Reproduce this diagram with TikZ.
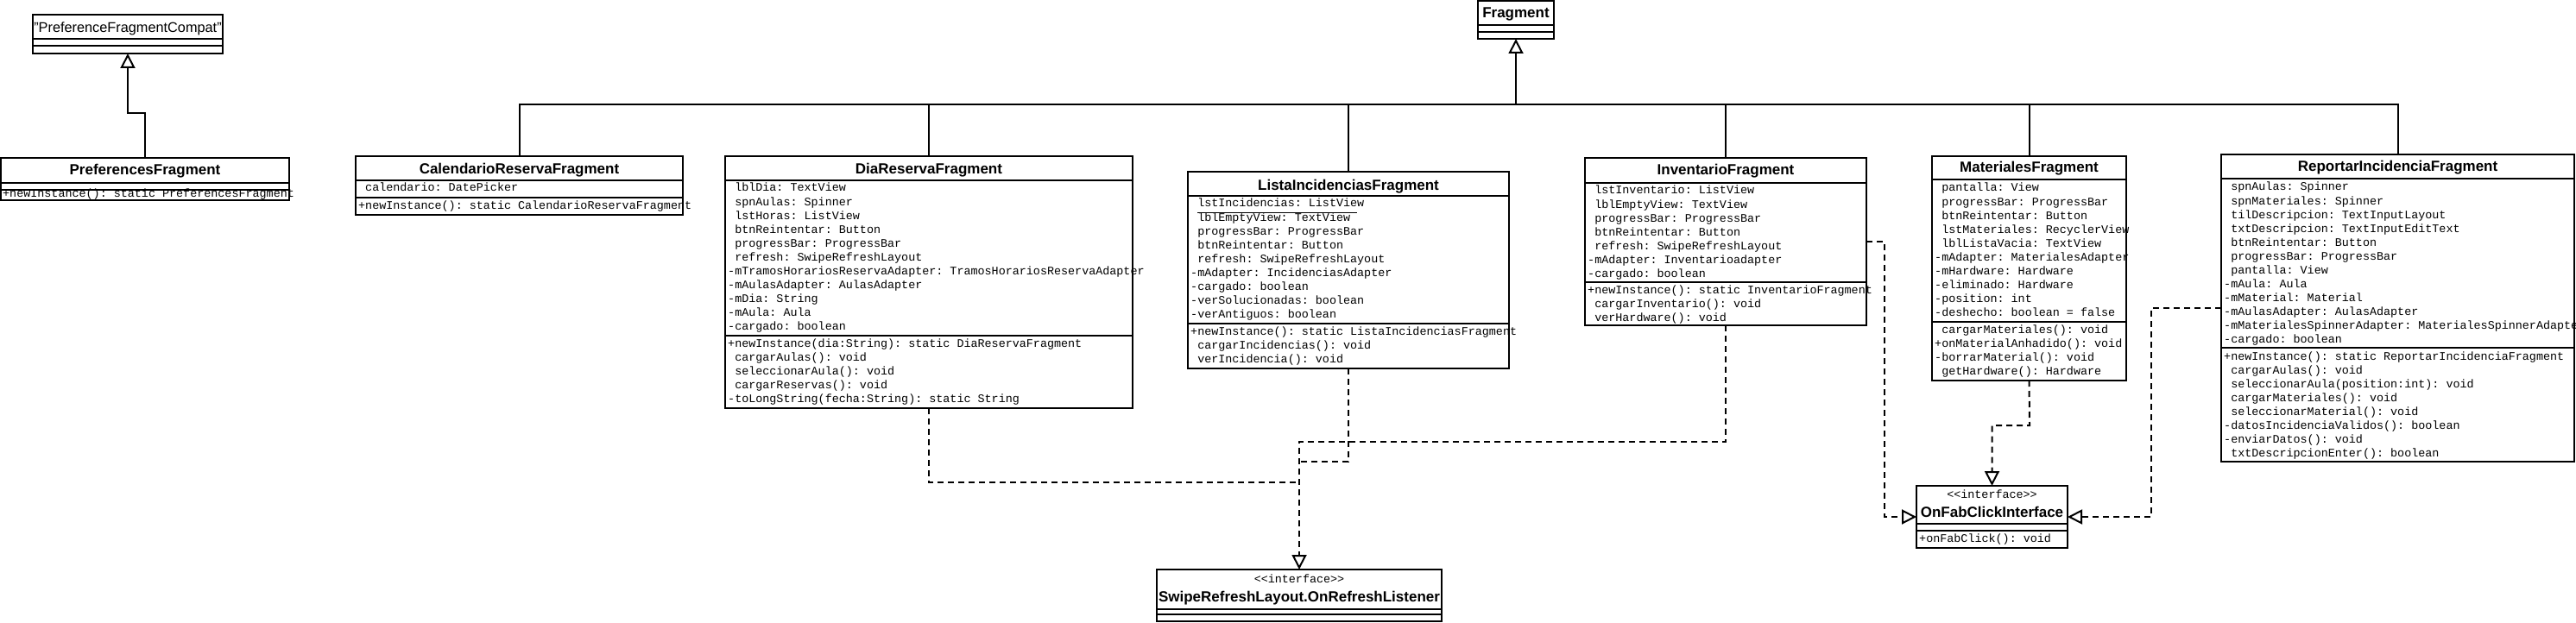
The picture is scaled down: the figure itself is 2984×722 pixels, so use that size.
\documentclass[tikz,border=0pt]{standalone}
\usepackage{fontspec}
\setmainfont{Liberation Sans}
\setsansfont{Liberation Sans}
\setmonofont{Liberation Mono}
\usetikzlibrary{arrows.meta}
\newcommand{\rowfont}{\ttfamily\fontsize{13.4}{16}\selectfont}
\newcommand{\ttlfont}{\sffamily\bfseries\fontsize{17}{20}\selectfont}
\newcommand{\ttlregfont}{\sffamily\fontsize{16.3}{20}\selectfont}
\newcommand{\ind}{\hphantom{x}}
\tikzset{
  box/.style={draw, line width=2pt, fill=white, inner sep=0pt, outer sep=0pt, anchor=north west},
  sepl/.style={line width=2pt},
  row/.style={anchor=base west, inner sep=0pt, font=\rowfont},
  stereo/.style={anchor=base, inner sep=0pt, font=\rowfont},
  ttl/.style={anchor=base, inner sep=0pt, font=\ttlfont},
  gen/.style={line width=2pt},
  genarrow/.style={line width=2pt, -{Triangle[length=17pt, width=17pt, fill=white]}},
  dep/.style={line width=2pt, dash pattern=on 7pt off 5pt},
  realize/.style={dep, -{Triangle[length=17pt, width=17pt, fill=white]}},
}
% name, x1, y1, x2, y2, sep1, sep2
\newcommand{\umlbox}[7]{%
  \node[box, minimum width={(#4-#2)*1pt}, minimum height={(#5-#3)*1pt}] (#1) at (#2,#3) {};
  \draw[sepl] (#2,#6) -- (#4,#6);
  \draw[sepl] (#2,#7) -- (#4,#7);}
% prefix, x, first baseline, list
\newcommand{\umlrows}[4]{%
  \foreach \t [count=\i] in {#4} {\node[row] (#1-\i) at ({#2},{#3+(\i-1)*16}) {\t};}}
\begin{document}
\begin{tikzpicture}[x=1pt,y=-1pt]
\useasboundingbox (0,0) rectangle (2984,722);

% PreferenceFragmentCompat
\umlbox{compat}{38}{17}{258}{62}{45}{53}
\node[ttl, font=\ttlregfont] (compat-t) at (148,38) {"PreferenceFragmentCompat"};

% Fragment
\umlbox{frag}{1712}{1}{1800}{45}{29}{37}
\node[ttl] (frag-t) at (1756,21) {Fragment};

% PreferencesFragment
\umlbox{pref}{1}{183}{335}{232}{212}{220}
\node[ttl] (pref-t) at (168,203) {PreferencesFragment};
\umlrows{prefm}{3}{229}{+newInstance(): static PreferencesFragment}

% CalendarioReservaFragment
\umlbox{cal}{412}{181}{791}{249}{209}{229}
\node[ttl] (cal-t) at (601.5,201) {CalendarioReservaFragment};
\umlrows{cala}{415}{222}{\ind calendario: DatePicker}
\umlrows{calm}{415}{242}{+newInstance(): static CalendarioReservaFragment}

% DiaReservaFragment
\umlbox{dia}{840}{181}{1312}{473}{209}{389}
\node[ttl] (dia-t) at (1076,201) {DiaReservaFragment};
\umlrows{diaa}{843}{222}{\ind lblDia: TextView,\ind spnAulas: Spinner,\ind lstHoras: ListView,\ind btnReintentar: Button,\ind progressBar: ProgressBar,\ind refresh: SwipeRefreshLayout,-mTramosHorariosReservaAdapter: TramosHorariosReservaAdapter,-mAulasAdapter: AulasAdapter,-mDia: String,-mAula: Aula,-cargado: boolean}
\umlrows{diam}{843}{402}{+newInstance(dia:String): static DiaReservaFragment,\ind cargarAulas(): void,\ind seleccionarAula(): void,\ind cargarReservas(): void,-toLongString(fecha:String): static String}

% ListaIncidenciasFragment
\umlbox{lista}{1376}{199}{1748}{427}{227}{375}
\node[ttl] (lista-t) at (1562,220) {ListaIncidenciasFragment};
\umlrows{listaa}{1379}{240}{\ind lstIncidencias: ListView,\ind lblEmptyView: TextView,\ind progressBar: ProgressBar,\ind btnReintentar: Button,\ind refresh: SwipeRefreshLayout,-mAdapter: IncidenciasAdapter,-cargado: boolean,-verSolucionadas: boolean,-verAntiguos: boolean}
\draw[line width=1pt] (1387,246) -- (1572,246);
\umlrows{listam}{1379}{388}{+newInstance(): static ListaIncidenciasFragment,\ind cargarIncidencias(): void,\ind verIncidencia(): void}

% InventarioFragment
\umlbox{inv}{1836}{183}{2162}{377}{212}{327}
\node[ttl] (inv-t) at (1999,203) {InventarioFragment};
\umlrows{inva}{1839}{225}{\ind lstInventario: ListView,\ind lblEmptyView: TextView,\ind progressBar: ProgressBar,\ind btnReintentar: Button,\ind refresh: SwipeRefreshLayout,-mAdapter: Inventarioadapter,-cargado: boolean}
\umlrows{invm}{1839}{340}{+newInstance(): static InventarioFragment,\ind cargarInventario(): void,\ind verHardware(): void}

% MaterialesFragment
\umlbox{mat}{2238}{181}{2463}{441}{208}{373}
\node[ttl] (mat-t) at (2350.5,200) {MaterialesFragment};
\umlrows{mata}{2241}{222}{\ind pantalla: View,\ind progressBar: ProgressBar,\ind btnReintentar: Button,\ind lstMateriales: RecyclerView,\ind lblListaVacia: TextView,-mAdapter: MaterialesAdapter,-mHardware: Hardware,-eliminado: Hardware,-position: int,-deshecho: boolean = false}
\umlrows{matm}{2241}{386}{\ind cargarMateriales(): void,+onMaterialAnhadido(): void,-borrarMaterial(): void,\ind getHardware(): Hardware}

% ReportarIncidenciaFragment
\umlbox{rep}{2573}{179}{2982}{535}{207}{403}
\node[ttl] (rep-t) at (2777.5,199) {ReportarIncidenciaFragment};
\umlrows{repa}{2576}{221}{\ind spnAulas: Spinner,\ind spnMateriales: Spinner,\ind tilDescripcion: TextInputLayout,\ind txtDescripcion: TextInputEditText,\ind btnReintentar: Button,\ind progressBar: ProgressBar,\ind pantalla: View,-mAula: Aula,-mMaterial: Material,-mAulasAdapter: AulasAdapter,-mMaterialesSpinnerAdapter: MaterialesSpinnerAdapter,-cargado: boolean}
\umlrows{repm}{2576}{417}{+newInstance(): static ReportarIncidenciaFragment,\ind cargarAulas(): void,\ind seleccionarAula(position:int): void,\ind cargarMateriales(): void,\ind seleccionarMaterial(): void,-datosIncidenciaValidos(): boolean,-enviarDatos(): void,\ind txtDescripcionEnter(): boolean}

% OnFabClickInterface
\umlbox{onfab}{2220}{563}{2395}{635}{607}{615}
\node[stereo] (onfab-s) at (2307.5,577) {<<interface>>};
\node[ttl] (onfab-t) at (2307.5,599) {OnFabClickInterface};
\umlrows{onfabm}{2223}{628}{+onFabClick(): void}

% SwipeRefreshLayout.OnRefreshListener
\umlbox{swipe}{1340}{660}{1670}{720}{706}{712}
\node[stereo] (swipe-s) at (1505,675) {<<interface>>};
\node[ttl] (swipe-t) at (1505,697) {SwipeRefreshLayout.OnRefreshListener};

% generalization to Fragment
\coordinate (bus) at (1756,121);
\draw[gen] (cal.north) |- (bus);
\draw[gen] (dia.north) |- (bus);
\draw[gen] (lista.north) |- (bus);
\draw[gen] (inv.north) |- (bus);
\draw[gen] (mat.north) |- (bus);
\draw[gen] (rep.north) |- (bus);
\draw[genarrow] (bus) -- (frag.south);

% generalization to PreferenceFragmentCompat
\coordinate (pk) at (168,131);
\draw[genarrow] (pref.north) -- (pk) -| (compat.south);

% realizations of SwipeRefreshLayout.OnRefreshListener
\coordinate (s1) at (1505,559);
\coordinate (s2) at (1505,535);
\coordinate (s3) at (1505,512);
\draw[dep] (dia.south) |- (s1);
\draw[dep] (lista.south) |- (s2);
\draw[realize] (inv.south) |- (s3) -- (swipe.north);

% realizations of OnFabClickInterface
\coordinate (f1) at (2183,280);
\coordinate (f2) at (2351,493);
\coordinate (f3) at (2492,357);
\draw[realize] (inv.east) -- (f1) |- (onfab.west);
\draw[realize] (mat.south) -- (f2) -| (onfab.north);
\draw[realize] (rep.west) -- (f3) |- (onfab.east);
\end{tikzpicture}
\end{document}
